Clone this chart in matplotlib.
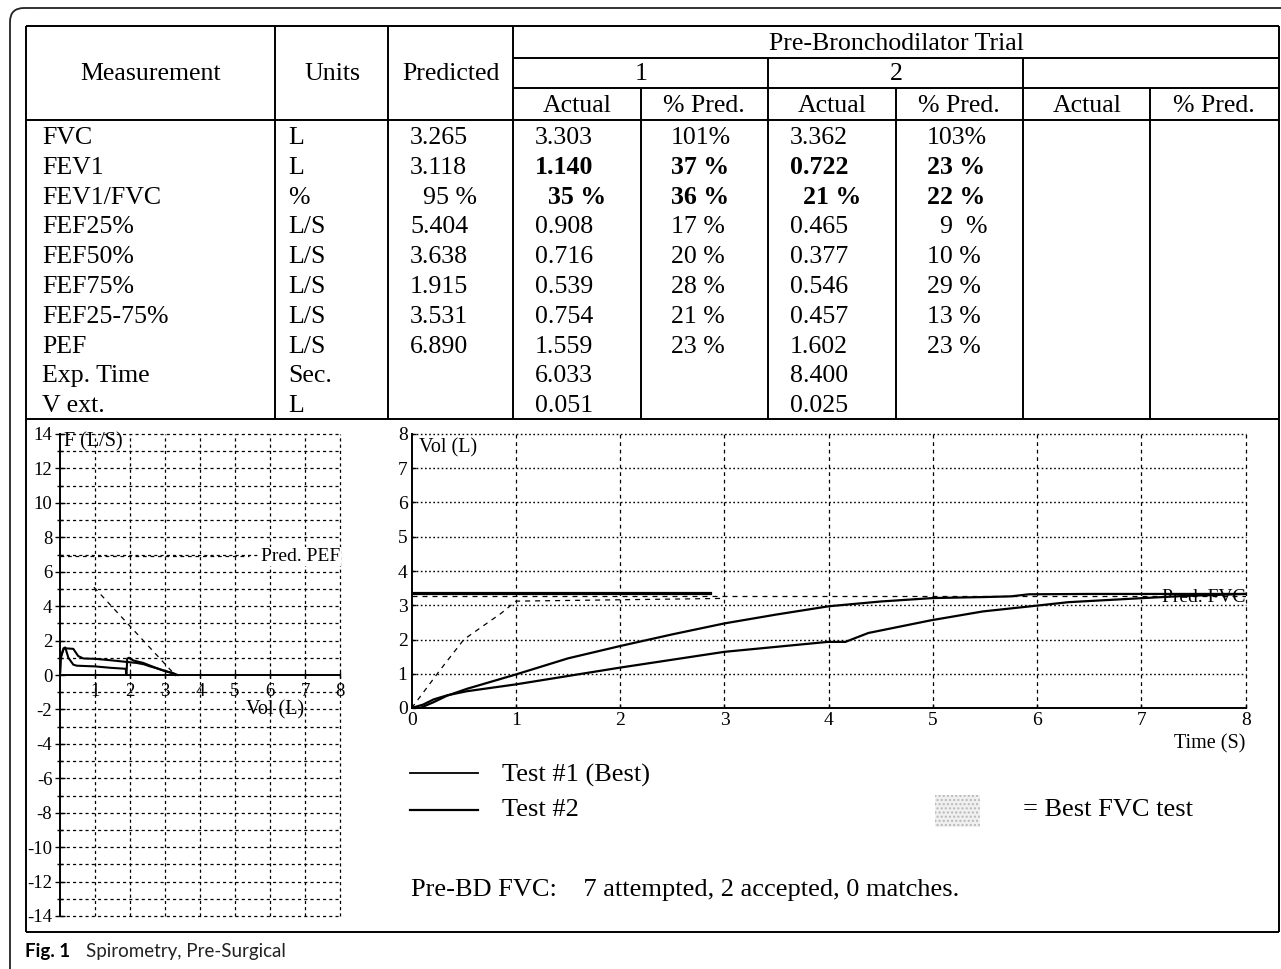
import matplotlib
matplotlib.use("Agg")
import matplotlib.pyplot as plt
from matplotlib.patches import FancyBboxPatch, Rectangle

# ---- table data ----
measurements = ["FVC", "FEV1", "FEV1/FVC", "FEF25%", "FEF50%", "FEF75%",
                "FEF25-75%", "PEF", "Exp. Time", "V ext."]
units = ["L", "L", "%", "L/S", "L/S", "L/S", "L/S", "L/S", "Sec.", "L"]
predicted = ["3.265", "3.118", "  95 %", "5.404", "3.638", "1.915", "3.531", "6.890", "", ""]
trial1_actual = ["3.303", "1.140", "  35 %", "0.908", "0.716", "0.539", "0.754", "1.559", "6.033", "0.051"]
trial1_pct = ["101%", "37 %", "36 %", "17 %", "20 %", "28 %", "21 %", "23 %", "", ""]
trial2_actual = ["3.362", "0.722", "  21 %", "0.465", "0.377", "0.546", "0.457", "1.602", "8.400", "0.025"]
trial2_pct = ["103%", "23 %", "22 %", "  9  %", "10 %", "29 %", "13 %", "23 %", "", ""]
bold_rows = [1, 2]

# ---- flow-volume loop (L, L/S) ----
fv1_vol = [0, 0.02, 0.1, 0.15, 0.38, 0.52, 0.67, 1.0, 1.43, 1.9, 2.19, 2.4, 2.57, 2.75, 2.95, 3.1, 3.24, 3.30]
fv1_flow = [0, 1.0, 1.5, 1.55, 1.52, 1.1, 0.96, 0.94, 0.86, 0.76, 0.70, 0.62, 0.50, 0.40, 0.26, 0.18, 0.10, 0.0]
fv2_vol = [0, 0.02, 0.1, 0.15, 0.24, 0.38, 0.48, 1.0, 1.43, 1.88, 1.89, 1.9, 1.92, 1.97, 2.1, 2.38, 2.76, 3.05, 3.29, 3.36]
fv2_flow = [0, 1.0, 1.55, 1.6, 1.0, 0.6, 0.54, 0.5, 0.42, 0.36, 0.0, 0.0, 0.95, 1.0, 0.84, 0.7, 0.4, 0.2, 0.06, 0.0]
pred_pef = 6.89
pred_fv_vol = [0.97, 3.2]
pred_fv_flow = [5.1, 0.2]

# ---- volume-time (s, L) ----
vt1_t = [0, 0.08, 0.21, 0.34, 0.53, 1.0, 1.5, 2.0, 2.5, 3.0, 3.5, 4.0, 4.5, 5.0, 5.5, 5.75, 5.92, 6.5, 7.0, 8.0]
vt1_v = [0, 0.0, 0.17, 0.36, 0.56, 0.98, 1.45, 1.81, 2.15, 2.47, 2.73, 2.97, 3.11, 3.21, 3.24, 3.26, 3.32, 3.33, 3.33, 3.33]
vt2_t = [0, 0.11, 0.21, 0.34, 0.53, 1.0, 2.0, 3.0, 3.99, 4.16, 4.38, 4.98, 5.48, 6.0, 6.3, 7.02, 7.4, 8.0]
vt2_v = [0, 0.1, 0.25, 0.37, 0.49, 0.69, 1.18, 1.64, 1.93, 1.93, 2.19, 2.56, 2.82, 2.99, 3.09, 3.21, 3.27, 3.33]
pred_vt_t = [0, 0.27, 0.5, 0.86, 1.0, 3.0]
pred_vt_v = [0, 1.1, 2.0, 2.77, 3.12, 3.2]
pred_fvc = 3.28
best_fvc = 3.36
best_fvc_end = 2.86

W, H = 1281, 969
plt.rcParams["font.family"] = ["Liberation Serif", "DejaVu Serif"]
fig = plt.figure(figsize=(W / 100, H / 100), dpi=100)

page = fig.add_axes([0, 0, 1, 1])
page.set_xlim(0, W)
page.set_ylim(H, 0)
page.axis("off")

page.add_patch(FancyBboxPatch((10, 8), 1320, 1020, boxstyle="round,pad=0,rounding_size=14",
                              fc="none", ec="#222222", lw=1.3))


def hl(y, x0, x1, lw=1.4):
    page.plot([x0, x1], [y, y], color="black", lw=lw, solid_capstyle="butt")


def vl(x, y0, y1, lw=1.4):
    page.plot([x, x], [y0, y1], color="black", lw=lw, solid_capstyle="butt")


L, R = 26, 1279
TOP, HDR, BOT_T, BOT = 26, 120, 419, 932
hl(TOP, L, R)
hl(58, 513, R)
hl(88, 513, R)
hl(HDR, L, R)
hl(BOT_T, L, R)
hl(BOT, L, R)
vl(L, TOP, BOT)
vl(R, TOP, BOT)
for x in (275, 388, 513):
    vl(x, TOP, BOT_T)
for x in (768, 1023):
    vl(x, 58, BOT_T)
for x in (641, 896, 1150):
    vl(x, 88, BOT_T)

fs = 18.6
page.text(151, 74, "Measurement", ha="center", va="center", fontsize=fs)
page.text(332, 74, "Units", ha="center", va="center", fontsize=fs)
page.text(451, 74, "Predicted", ha="center", va="center", fontsize=fs)
page.text(896, 44, "Pre-Bronchodilator Trial", ha="center", va="center", fontsize=fs)
page.text(641, 74, "1", ha="center", va="center", fontsize=fs)
page.text(896, 74, "2", ha="center", va="center", fontsize=fs)
for cx in (577, 832, 1087):
    page.text(cx, 106, "Actual", ha="center", va="center", fontsize=fs)
for cx in (704, 959, 1214):
    page.text(cx, 106, "% Pred.", ha="center", va="center", fontsize=fs)

columns = [(42, measurements), (288, units), (410, predicted),
           (535, trial1_actual), (671, trial1_pct), (790, trial2_actual), (927, trial2_pct)]
for ci, (x, vals) in enumerate(columns):
    for i, v in enumerate(vals):
        bold = ci >= 3 and i in bold_rows
        page.text(x, 138 + 29.8 * i, v, ha="left", va="center", fontsize=fs,
                  fontweight="bold" if bold else "normal")

# ---- left: flow-volume ----
ax1 = fig.add_axes([60 / W, (H - 916) / H, 280 / W, 482 / H])
ax1.set_xlim(0, 8)
ax1.set_ylim(-14, 14)
for y in range(-14, 15):
    if y != 0:
        ax1.axhline(y, color="black", lw=0.9, ls=(0, (2.5, 2.5)), clip_on=False)
for x in range(1, 9):
    ax1.axvline(x, color="black", lw=0.9, ls=(0, (2.5, 2.5)), clip_on=False)
ax1.spines["top"].set_visible(False)
ax1.spines["right"].set_visible(False)
ax1.spines["bottom"].set_position(("data", 0))
ax1.spines["left"].set_linewidth(1.4)
ax1.spines["bottom"].set_linewidth(1.4)
ax1.set_xticks(range(1, 9))
ax1.set_xticklabels([str(i) for i in range(1, 9)], fontsize=13.5)
ax1.set_yticks(range(-14, 15, 2))
ax1.set_yticklabels([str(i) for i in range(-14, 15, 2)], fontsize=13.5)
ax1.set_yticks(range(-13, 14, 2), minor=True)
ax1.tick_params(axis="y", which="major", direction="inout", length=7, width=1, pad=2)
ax1.tick_params(axis="y", which="minor", direction="inout", length=5, width=1)
ax1.tick_params(axis="x", direction="inout", length=5, width=1, pad=3)
ax1.set_facecolor("none")

ax1.plot([0, 5.4], [pred_pef, pred_pef], color="black", lw=0.9, ls=(0, (3, 3)))
ax1.plot(pred_fv_vol, pred_fv_flow, color="black", lw=0.9, ls=(0, (4, 4)))
ax1.plot(fv1_vol, fv1_flow, color="black", lw=1.5)
ax1.plot(fv2_vol, fv2_flow, color="black", lw=1.5)
ax1.text(8, pred_pef, "Pred. PEF", ha="right", va="center", fontsize=14,
         bbox=dict(fc="white", ec="none", pad=0.5))
ax1.text(0.1, 13.55, "F (L/S)", ha="left", va="center", fontsize=14.5)
ax1.text(6.15, -2.0, "Vol (L)", ha="center", va="center", fontsize=14.5)

# ---- right: volume-time ----
ax2 = fig.add_axes([411.7 / W, (H - 708) / H, 834 / W, 274 / H])
ax2.set_xlim(0, 8)
ax2.set_ylim(0, 8)
for y in range(1, 9):
    ax2.axhline(y, color="black", lw=1.0, ls=(0, (1.2, 1.8)), clip_on=False)
for x in range(1, 9):
    ax2.axvline(x, color="black", lw=0.9, ls=(0, (3, 3)), clip_on=False)
ax2.spines["top"].set_visible(False)
ax2.spines["right"].set_visible(False)
ax2.spines["left"].set_linewidth(1.4)
ax2.spines["bottom"].set_linewidth(1.4)
ax2.set_xticks(range(0, 9))
ax2.set_xticklabels([str(i) for i in range(0, 9)], fontsize=14)
ax2.set_yticks(range(0, 9))
ax2.set_yticklabels([str(i) for i in range(0, 9)], fontsize=14)
ax2.tick_params(direction="in", length=3, width=1, pad=3)
ax2.set_facecolor("none")

ax2.plot([0, 8], [pred_fvc, pred_fvc], color="black", lw=0.9, ls=(0, (4, 4)))
ax2.plot(pred_vt_t, pred_vt_v, color="black", lw=0.9, ls=(0, (4, 4)))
ax2.plot([0, best_fvc_end], [best_fvc, best_fvc], color="black", lw=2.3)
ax2.plot(vt1_t, vt1_v, color="black", lw=1.6)
ax2.plot(vt2_t, vt2_v, color="black", lw=1.6)
ax2.text(8, pred_fvc - 0.05, "Pred. FVC", ha="right", va="center", fontsize=14)
ax2.text(0.07, 7.6, "Vol (L)", ha="left", va="center", fontsize=14.5)
ax2.text(8, -1.05, "Time (S)", ha="right", va="center", fontsize=14.5, clip_on=False)

# ---- legend and notes ----
page.plot([410, 478], [773, 773], color="black", lw=1.3)
page.plot([410, 478], [810, 810], color="black", lw=1.6)
page.text(502, 775, "Test #1 (Best)", ha="left", va="center", fontsize=19)
page.text(502, 810, "Test #2", ha="left", va="center", fontsize=19)
page.add_patch(Rectangle((935, 795), 45, 32, fc="#f0f0f0", ec="#b8b8b8", lw=0, hatch="...."))
page.text(1023, 810, "= Best FVC test", ha="left", va="center", fontsize=19)
page.text(411, 890, "Pre-BD FVC:    7 attempted, 2 accepted, 0 matches.",
          ha="left", va="center", fontsize=19)

page.text(25, 952, "Fig. 1", ha="left", va="center", fontsize=13.5,
          family=["Lato", "DejaVu Sans"], fontweight="bold")
page.text(86, 952, "Spirometry, Pre-Surgical", ha="left", va="center", fontsize=13.5,
          family=["Lato", "DejaVu Sans"], color="#222222")

fig.savefig("out.png", dpi=100, facecolor="white")
